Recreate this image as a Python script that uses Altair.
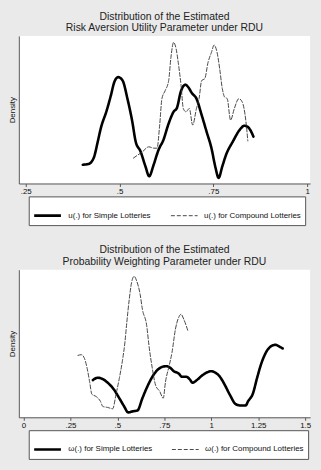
import altair as alt
import pandas as pd

# Kernel density of the estimated relative risk aversion parameter
ra_simple_x = [0.402, 0.417, 0.431, 0.442, 0.450, 0.466, 0.477, 0.486, 0.496, 0.508,
               0.521, 0.534, 0.543, 0.556, 0.569, 0.579, 0.591, 0.604, 0.617, 0.631,
               0.644, 0.653, 0.663, 0.675, 0.686, 0.692, 0.705, 0.719, 0.732, 0.745,
               0.756, 0.764, 0.774, 0.784, 0.802, 0.820, 0.833, 0.844, 0.857]
ra_simple_y = [0.57, 0.59, 0.77, 1.27, 1.67, 2.22, 2.67, 3.07, 3.22, 3.12,
               2.57, 1.87, 1.27, 0.97, 0.52, 0.22, 0.57, 1.02, 1.32, 1.82,
               2.17, 2.29, 2.77, 2.99, 2.87, 2.75, 2.57, 2.07, 1.57, 1.07,
               0.47, 0.17, 0.52, 0.87, 1.27, 1.62, 1.75, 1.69, 1.42]
ra_compound_x = [0.537, 0.547, 0.560, 0.578, 0.591, 0.600, 0.607, 0.613, 0.622, 0.631,
                 0.637, 0.644, 0.651, 0.657, 0.664, 0.670, 0.677, 0.686, 0.695, 0.705,
                 0.712, 0.719, 0.727, 0.736, 0.745, 0.752, 0.760, 0.767, 0.774, 0.780,
                 0.787, 0.796, 0.806, 0.818, 0.827, 0.837, 0.842]
ra_compound_y = [0.77, 0.85, 0.95, 1.11, 1.07, 1.07, 1.77, 2.57, 2.82, 3.12,
                 3.82, 4.27, 4.07, 3.62, 2.97, 2.27, 2.17, 2.27, 1.77, 2.27,
                 2.57, 3.12, 3.17, 3.67, 3.97, 4.19, 3.97, 3.47, 2.87, 2.62,
                 2.57, 1.92, 2.27, 2.57, 2.47, 1.87, 1.29]

# Kernel density of the estimated probability weighting parameter
pw_simple_x = [0.369, 0.396, 0.422, 0.448, 0.483, 0.510, 0.536, 0.557, 0.580, 0.607,
               0.633, 0.659, 0.686, 0.712, 0.738, 0.760, 0.782, 0.800, 0.826, 0.844,
               0.867, 0.884, 0.900, 0.923, 0.949, 0.976, 0.997, 1.020, 1.046, 1.072,
               1.099, 1.130, 1.155, 1.183, 1.195, 1.222, 1.243, 1.266, 1.292, 1.319,
               1.341, 1.362, 1.380]
pw_simple_y = [1.13, 1.20, 1.16, 1.05, 0.83, 0.58, 0.33, 0.15, 0.18, 0.21,
               0.58, 0.93, 1.23, 1.43, 1.53, 1.55, 1.50, 1.40, 1.33, 1.23,
               1.23, 1.16, 1.05, 1.13, 1.26, 1.36, 1.40, 1.36, 1.23, 0.98,
               0.68, 0.40, 0.36, 0.36, 0.48, 0.73, 1.18, 1.63, 1.98, 2.16,
               2.20, 2.15, 2.09]
pw_compound_x = [0.290, 0.308, 0.325, 0.339, 0.352, 0.364, 0.387, 0.410, 0.422, 0.448,
                 0.475, 0.492, 0.510, 0.527, 0.540, 0.550, 0.563, 0.575, 0.589, 0.603,
                 0.621, 0.633, 0.656, 0.668, 0.686, 0.703, 0.726, 0.744, 0.756, 0.774,
                 0.791, 0.809, 0.826, 0.839, 0.853, 0.875]
pw_compound_y = [1.88, 1.90, 1.78, 1.48, 1.08, 0.70, 0.63, 0.48, 0.33, 0.30,
                 0.26, 0.68, 1.18, 1.73, 2.28, 2.88, 3.58, 4.08, 4.28, 4.13,
                 3.73, 3.28, 2.78, 2.18, 1.48, 0.98, 0.78, 0.58, 1.08, 1.53,
                 1.98, 2.68, 3.03, 3.13, 2.98, 2.63]

ra_labels = ["u(.) for Simple Lotteries", "u(.) for Compound Lotteries"]
pw_labels = ["ω(.) for Simple Lotteries", "ω(.) for Compound Lotteries"]
ra_ticks = [0.25, 0.5, 0.75, 1]
pw_ticks = [0, 0.25, 0.5, 0.75, 1, 1.25, 1.5]

FONT = "Liberation Sans"


def frame(xs, ys, label):
    return pd.DataFrame({"x": xs, "y": ys, "series": label})


def panel(df, labels, ticks, xdomain, ymax, xtitle, title):
    legend = alt.Legend(
        title=None, orient="none", legendX=10, legendY=162, direction="horizontal",
        symbolType="stroke", symbolSize=729, labelFont=FONT, labelFontSize=8,
        labelColor="#111", fillColor="white", strokeColor="#555", padding=4,
        columnPadding=17, labelOffset=6, cornerRadius=0,
    )
    return alt.Chart(df).mark_line(interpolate="monotone", strokeCap="round").encode(
        x=alt.X("x:Q", scale=alt.Scale(domain=xdomain, nice=False, zero=False),
                axis=alt.Axis(values=ticks, format=".2~f", title=xtitle,
                              labelExpr="slice(datum.label, 0, 2) == '0.' ? slice(datum.label, 1) : datum.label")),
        y=alt.Y("y:Q", scale=alt.Scale(domain=[0, ymax], nice=False),
                axis=alt.Axis(title="Density", labels=False, ticks=False)),
        color=alt.Color("series:O", scale=alt.Scale(domain=labels, range=["#000000", "#333333"]),
                        legend=legend),
        strokeDash=alt.StrokeDash("series:O", scale=alt.Scale(domain=labels, range=[[1, 0], [4, 2]]),
                                  legend=legend),
        strokeWidth=alt.StrokeWidth("series:O", scale=alt.Scale(domain=labels, range=[2.6, 0.9]),
                                    legend=legend),
        order=alt.Order("x:Q"),
    ).properties(
        width=294, height=149,
        title=alt.TitleParams(text=title, fontSize=10.5, font=FONT, fontWeight="normal",
                              color="#222", lineHeight=12, offset=2, anchor="middle", frame="group"),
    )


ra_df = pd.concat([frame(ra_simple_x, ra_simple_y, ra_labels[0]),
                   frame(ra_compound_x, ra_compound_y, ra_labels[1])])
pw_df = pd.concat([frame(pw_simple_x, pw_simple_y, pw_labels[0]),
                   frame(pw_compound_x, pw_compound_y, pw_labels[1])])

top = panel(ra_df, ra_labels, ra_ticks, [0.2315, 1.008], 4.47,
            "Relative Risk Aversion Estimate",
            ["Distribution of the Estimated", "Risk Aversion Utility Parameter under RDU"])
bottom = panel(pw_df, pw_labels, pw_ticks, [-0.025, 1.526], 4.48,
               "Probability Weighting Estimate",
               ["Distribution of the Estimated", "Probability Weighting Parameter under RDU"])

chart = alt.vconcat(top, bottom, spacing=19).resolve_scale(
    color="independent", strokeDash="independent", strokeWidth="independent"
).properties(
    background="#eaeaea",
    padding={"left": 9, "top": 9, "right": 10, "bottom": 12},
).configure_view(
    fill="white", strokeWidth=0,
).configure_axis(
    domainColor="#555", tickColor="#555", grid=False,
    labelFont=FONT, titleFont=FONT, labelFontSize=8, titleFontSize=8,
    labelColor="#111", titleColor="#111", titleFontWeight="normal",
).configure_axisX(
    tickSize=3, labelPadding=1, titlePadding=1,
).configure_axisY(
    titlePadding=2,
)

chart.save("out.html", embed_options={"renderer": "svg", "actions": False})
